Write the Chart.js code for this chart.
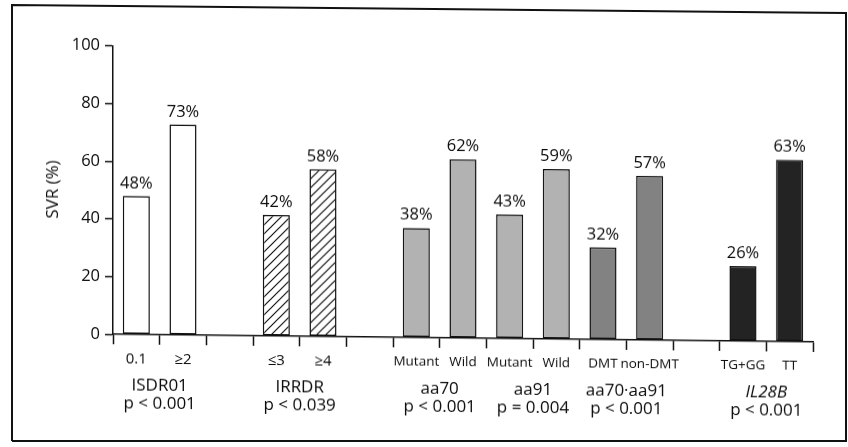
<!DOCTYPE html>
<html>
<head>
<meta charset="utf-8">
<script src="https://cdn.jsdelivr.net/npm/chart.js@4"></script>
<style>
  html, body { margin: 0; padding: 0; background: #fff; overflow: hidden; }
  #wrap { position: relative; width: 848px; height: 447px; }
  #c { position: absolute; left: 0; top: 0; transform: skewY(0.63deg); transform-origin: 0 0; }
  #frame { position: absolute; left: 0; top: 0; }
</style>
</head>
<body>
<div id="wrap">
  <canvas id="c" width="848" height="447"></canvas>
  <svg id="frame" width="848" height="447">
    <polyline points="12,441 12,5 846,13 846,441 12,441" fill="none" stroke="#111" stroke-width="2"/>
  </svg>
</div>
<script>
// SVR rate per genotype category (empty slots separate the groups)
const categories = ['0.1', '≥2', '', '≤3', '≥4', '', 'Mutant', 'Wild', 'Mutant', 'Wild', 'DMT', 'non-DMT', '', 'TG+GG', 'TT'];
const svrValues = [48, 73, null, 42, 58, null, 38, 62, 43, 59, 32, 57, null, 26, 63];
const yTicks = [0, 20, 40, 60, 80, 100];

// Groups: name, p-value and the index of the first of their two bars
const groupNames = ['ISDR01', 'IRRDR', 'aa70', 'aa91', 'aa70·aa91', 'IL28B'];
const groupPValues = ['p < 0.001', 'p < 0.039', 'p < 0.001', 'p = 0.004', 'p < 0.001', 'p < 0.001'];
const groupFirstIndex = [0, 3, 6, 8, 10, 13];

const FONT = '"Open Sans", "Noto Sans", sans-serif';
const INK = '#0a0a0a';

// Diagonal hatching for the IRRDR bars
function makeHatch() {
  const s = 9;
  const p = document.createElement('canvas');
  p.width = s; p.height = s;
  const g = p.getContext('2d');
  g.fillStyle = '#fff';
  g.fillRect(0, 0, s, s);
  g.strokeStyle = '#111';
  g.lineWidth = 1.2;
  g.beginPath();
  g.moveTo(0, s); g.lineTo(s, 0);
  g.moveTo(-s / 2, s / 2); g.lineTo(s / 2, -s / 2);
  g.moveTo(s / 2, s * 1.5); g.lineTo(s * 1.5, s / 2);
  g.stroke();
  return g.createPattern(p, 'repeat');
}

const ctx = document.getElementById('c').getContext('2d');
const groupFills = ['#ffffff', makeHatch(), '#b2b2b2', '#b2b2b2', '#828282', '#232323'];

function groupOf(i) {
  let g = 0;
  for (let k = 0; k < groupFirstIndex.length; k++) {
    if (i >= groupFirstIndex[k]) g = k;
  }
  return g;
}

const valueLabels = {
  id: 'valueLabels',
  afterDatasetsDraw(chart) {
    const c = chart.ctx;
    const meta = chart.getDatasetMeta(0);
    c.save();
    c.font = '16.5px ' + FONT;
    c.fillStyle = INK;
    c.textAlign = 'center';
    c.textBaseline = 'alphabetic';
    meta.data.forEach((bar, i) => {
      const v = svrValues[i];
      if (v === null) return;
      c.fillText(v + '%', bar.x, bar.y - 8);
    });
    c.restore();
  }
};

const groupLabels = {
  id: 'groupLabels',
  afterDraw(chart) {
    const c = chart.ctx;
    const xs = chart.scales.x;
    c.save();
    c.fillStyle = INK;
    c.textAlign = 'center';
    c.textBaseline = 'alphabetic';
    groupNames.forEach((name, k) => {
      const i = groupFirstIndex[k];
      const x = (xs.getPixelForValue(i) + xs.getPixelForValue(i + 1)) / 2;
      c.font = (name === 'IL28B' ? 'italic ' : '') + '17px ' + FONT;
      c.fillText(name, x, 388.5);
      c.font = '17px ' + FONT;
      c.fillText(groupPValues[k], x, 407);
    });
    c.restore();
  }
};

new Chart(ctx, {
  type: 'bar',
  data: {
    labels: categories,
    datasets: [{
      data: svrValues,
      backgroundColor: svrValues.map((v, i) => groupFills[groupOf(i)]),
      borderColor: '#111',
      borderWidth: 1.5,
      borderSkipped: false,
      barPercentage: 0.58,
      categoryPercentage: 1.0
    }]
  },
  options: {
    responsive: false,
    animation: false,
    devicePixelRatio: 1,
    layout: { padding: { top: 44.7, right: 35, bottom: 84, left: 0 } },
    plugins: { legend: { display: false }, tooltip: { enabled: false } },
    scales: {
      x: {
        afterFit(s) { s.height = 30; },
        grid: {
          offset: true,
          drawOnChartArea: false,
          drawTicks: true,
          tickLength: 10,
          tickColor: '#111',
          tickWidth: 1.5
        },
        border: { display: true, color: '#111', width: 1.5 },
        ticks: {
          color: INK,
          font: (c) => ({ family: FONT, size: groupOf(c.index) < 2 ? 15 : 13.5 }),
          padding: 6,
          maxRotation: 0,
          autoSkip: false
        }
      },
      y: {
        min: 0,
        max: 100,
        afterFit(s) { s.width = 113; },
        afterBuildTicks(s) { s.ticks = yTicks.map(v => ({ value: v })); },
        grid: {
          drawOnChartArea: false,
          drawTicks: true,
          tickLength: 8,
          tickColor: '#111',
          tickWidth: 1.5
        },
        border: { display: true, color: '#111', width: 1.5 },
        ticks: {
          color: INK,
          font: { family: FONT, size: 16.5 },
          padding: 5
        },
        title: {
          display: true,
          text: 'SVR (%)',
          color: INK,
          font: { family: FONT, size: 17 },
          padding: { top: 42.8, bottom: 0 }
        }
      }
    }
  },
  plugins: [valueLabels, groupLabels]
});
</script>
</body>
</html>
